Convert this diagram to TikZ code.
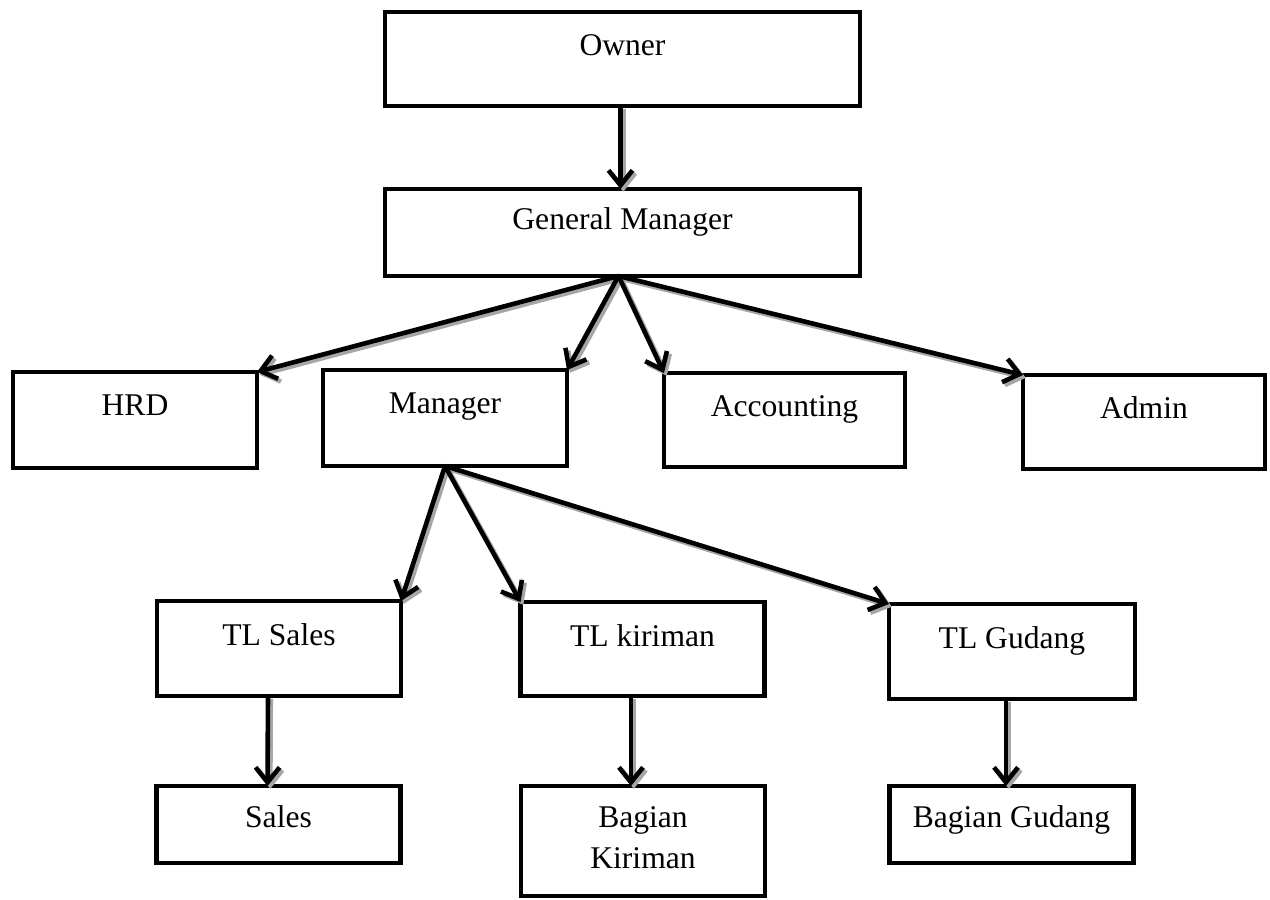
\documentclass[tikz,border=0pt]{standalone}
\usepackage{fontspec}
\setmainfont{Liberation Serif}
\usetikzlibrary{arrows.meta}

\tikzset{
	box/.style={draw, line width=2.4pt, inner sep=0pt, outer sep=0pt, anchor=north, align=center,
		minimum width=122pt, text height=21.5pt, text depth=26.5pt},
	link/.style={line width=2.3pt, -{Straight Barb[length=7.5pt,width=12pt]}}
}

\newcommand{\orglinks}{%
	\draw[link] ([xshift=-1pt]owner.south) -- ([xshift=-1pt]gm.north);
	\foreach \t/\a in {hrd/north east, mgr/north east, acc/north west, adm/north west}
	{
		\draw[link] ([xshift=-2pt]gm.south) -- (\t.\a);
	}
	\foreach \t/\a in {tls/north east, tlk/north west, tlg/north west}
	{
		\draw[link] (mgr.south) -- (\t.\a);
	}
	\draw[link] ([xshift=-5.5pt]tls.south) -- ([xshift=-5.5pt]sales.north);
	\draw[link] ([xshift=-5.75pt]tlk.south) -- ([xshift=-6pt]bk.north);
	\draw[link] ([xshift=-3pt]tlg.south) -- ([xshift=-2.75pt]bg.north);
}

\begin{document}
\begin{tikzpicture}[x=0.5pt, y=-0.5pt, font=\fontsize{15.8}{20.5}\selectfont]
	\useasboundingbox (0,0) rectangle (1270,900);
	% pimpinan
	\node[box, minimum width=237.5pt, text depth=25.5pt] (owner) at (622.5,12) {Owner};
	\node[box, minimum width=237.5pt, text height=20pt, text depth=23.5pt] (gm) at (622.5,189) {General Manager};
	% baris kedua
	\node[box] (hrd) at (135,372) {HRD};
	\node[box] (mgr) at (445,370) {Manager};
	\node[box, minimum width=120.5pt, text depth=25.5pt] (acc) at (784.5,373) {Accounting};
	\node[box, minimum width=121pt, text depth=25.5pt] (adm) at (1144,375) {Admin};
	% team leader
	\node[box, text height=22pt, text depth=25.5pt] (tls) at (279,601) {TL Sales};
	\node[box, text height=22pt, text depth=25pt] (tlk) at (642.5,602) {TL kiriman};
	\node[box, minimum width=123pt, text height=22pt, text depth=25.5pt] (tlg) at (1012,604) {TL Gudang};
	% bagian
	\node[box, text height=20.5pt, text depth=18pt] (sales) at (278.5,786) {Sales};
	\node[box, text height=41pt, text depth=14pt] (bk) at (643,786) {Bagian\\Kiriman};
	\node[box, text height=20.5pt, text depth=18pt] (bg) at (1011.5,786) {Bagian Gudang};

	% bayangan abu-abu lalu panah hitam
	\begin{scope}[color=black!35, transform canvas={shift={(1.4pt,-1.4pt)}}]
		\orglinks
	\end{scope}
	\orglinks
\end{tikzpicture}
\end{document}
